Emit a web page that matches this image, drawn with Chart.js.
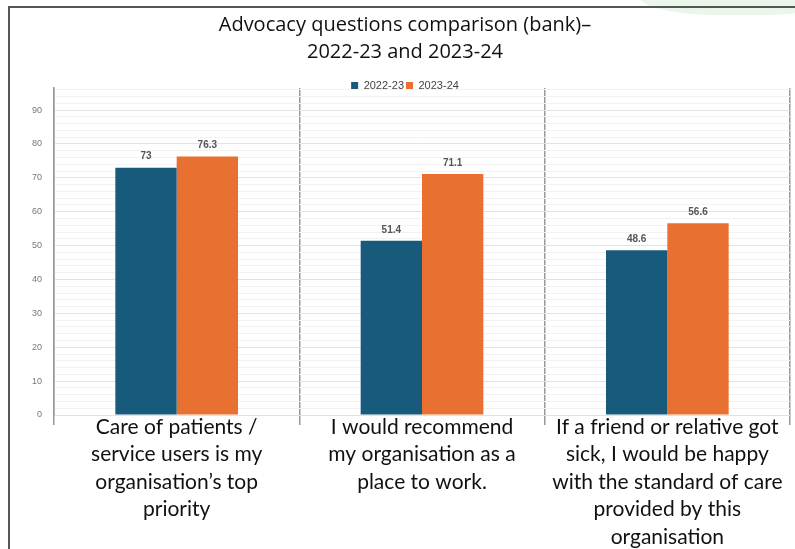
<!DOCTYPE html>
<html><head><meta charset="utf-8">
<script src="https://cdn.jsdelivr.net/npm/chart.js@4"></script>
<style>
html,body{margin:0;padding:0;background:#fff;overflow:hidden}
#wrap{position:absolute;left:0;top:0;width:795px;height:549px}
#frame{position:absolute;left:8px;top:6px;width:800px;height:560px;border:2px solid #555;box-sizing:border-box;pointer-events:none}
#deco{position:absolute;left:640px;top:-30px;width:200px;height:45px;background:#eaf6ea;border-radius:40%;}
canvas{display:block}
</style></head>
<body>
<div id="wrap">
<div id="deco"></div>
<div id="frame"></div>
<canvas id="c" width="795" height="549"></canvas>
</div>
<script>
const categories = [
  ["Care of patients /","service users is my","organisation\u2019s top","priority"],
  ["I would recommend","my organisation as a","place to work."],
  ["If a friend or relative got","sick, I would be happy","with the standard of care","provided by this","organisation"]
];
const seriesNames = ["2022-23","2023-24"];
const values2022 = [73, 51.4, 48.6];
const values2023 = [76.3, 71.1, 56.6];
const yTickLabels = [0,10,20,30,40,50,60,70,80,90];

const barLabels = {
  id:'barLabels',
  afterDatasetsDraw(chart){
    const ctx = chart.ctx;
    ctx.save();
    ctx.font = 'bold 10px "Liberation Sans", Arial, sans-serif';
    ctx.fillStyle = '#555';
    ctx.textAlign = 'center';
    ctx.textBaseline = 'bottom';
    chart.data.datasets.forEach((ds,i)=>{
      chart.getDatasetMeta(i).data.forEach((el,j)=>{
        ctx.fillText(String(ds.data[j]), el.x, el.y - 6);
      });
    });
    ctx.restore();
  }
};

const LEGEND_TRIM = 13;
const chart = new Chart(document.getElementById('c'), {
  type:'bar',
  data:{
    labels:categories,
    datasets:[
      {label:seriesNames[0], data:values2022, backgroundColor:'#175a7c'},
      {label:seriesNames[1], data:values2023, backgroundColor:'#e87030'}
    ]
  },
  plugins:[barLabels],
  options:{
    responsive:false,
    animation:false,
    layout:{autoPadding:false,padding:{left:20,right:5,top:11,bottom:0}},
    datasets:{bar:{categoryPercentage:0.5,barPercentage:1.0}},
    plugins:{
      title:{display:true,text:'Advocacy questions comparison (bank)\u2013',color:'#111',
        font:{family:'"Open Sans", sans-serif',size:20,weight:'normal'},padding:{top:2,bottom:0}},
      subtitle:{display:true,text:'2022-23 and 2023-24',color:'#111',
        font:{family:'"Open Sans", sans-serif',size:20,weight:'normal'},padding:{top:3,bottom:14}},
      legend:{position:'top',labels:{boxWidth:7,boxHeight:7,padding:2,color:'#444',
        font:{family:'"Liberation Sans", Arial, sans-serif',size:11}}},
      tooltip:{enabled:false}
    },
    scales:{
      x:{
        grid:{offset:true,color:'#999',lineWidth:1.5,drawOnChartArea:true,tickLength:10},
        border:{display:false},
        afterFit:(s)=>{ s.height = 134; },
        ticks:{color:'#111',font:{family:'Lato, sans-serif',size:21,lineHeight:1.31},maxRotation:0,autoSkip:false,padding:-12}
      },
      y:{
        min:0,max:96.5,
        grid:{color:(c)=> (c.tick && yTickLabels.includes(c.tick.value)) ? '#e2e2e2' : '#f2f2f2',drawTicks:false},
        border:{display:true,color:'#999',width:1.5},
        ticks:{stepSize:2,includeBounds:false,autoSkip:false,padding:12,color:'#777',
          font:{family:'"Liberation Sans", Arial, sans-serif',size:9},
          callback:(v)=> yTickLabels.includes(v) ? String(v) : ''}
      }
    }
  }
});
// let the legend sit just above the plot area, as in the reference
const lg = chart.legend;
const origFit = lg.fit.bind(lg);
const origDraw = lg.draw.bind(lg);
lg.fit = function(){ origFit(); this.height = Math.max(0, this.height - LEGEND_TRIM); };
lg.draw = function(){
  const b = this.bottom, h = this.height;
  this.bottom = b + LEGEND_TRIM; this.height = h + LEGEND_TRIM;
  origDraw();
  this.bottom = b; this.height = h;
};
chart.update();
</script>
</body></html>
